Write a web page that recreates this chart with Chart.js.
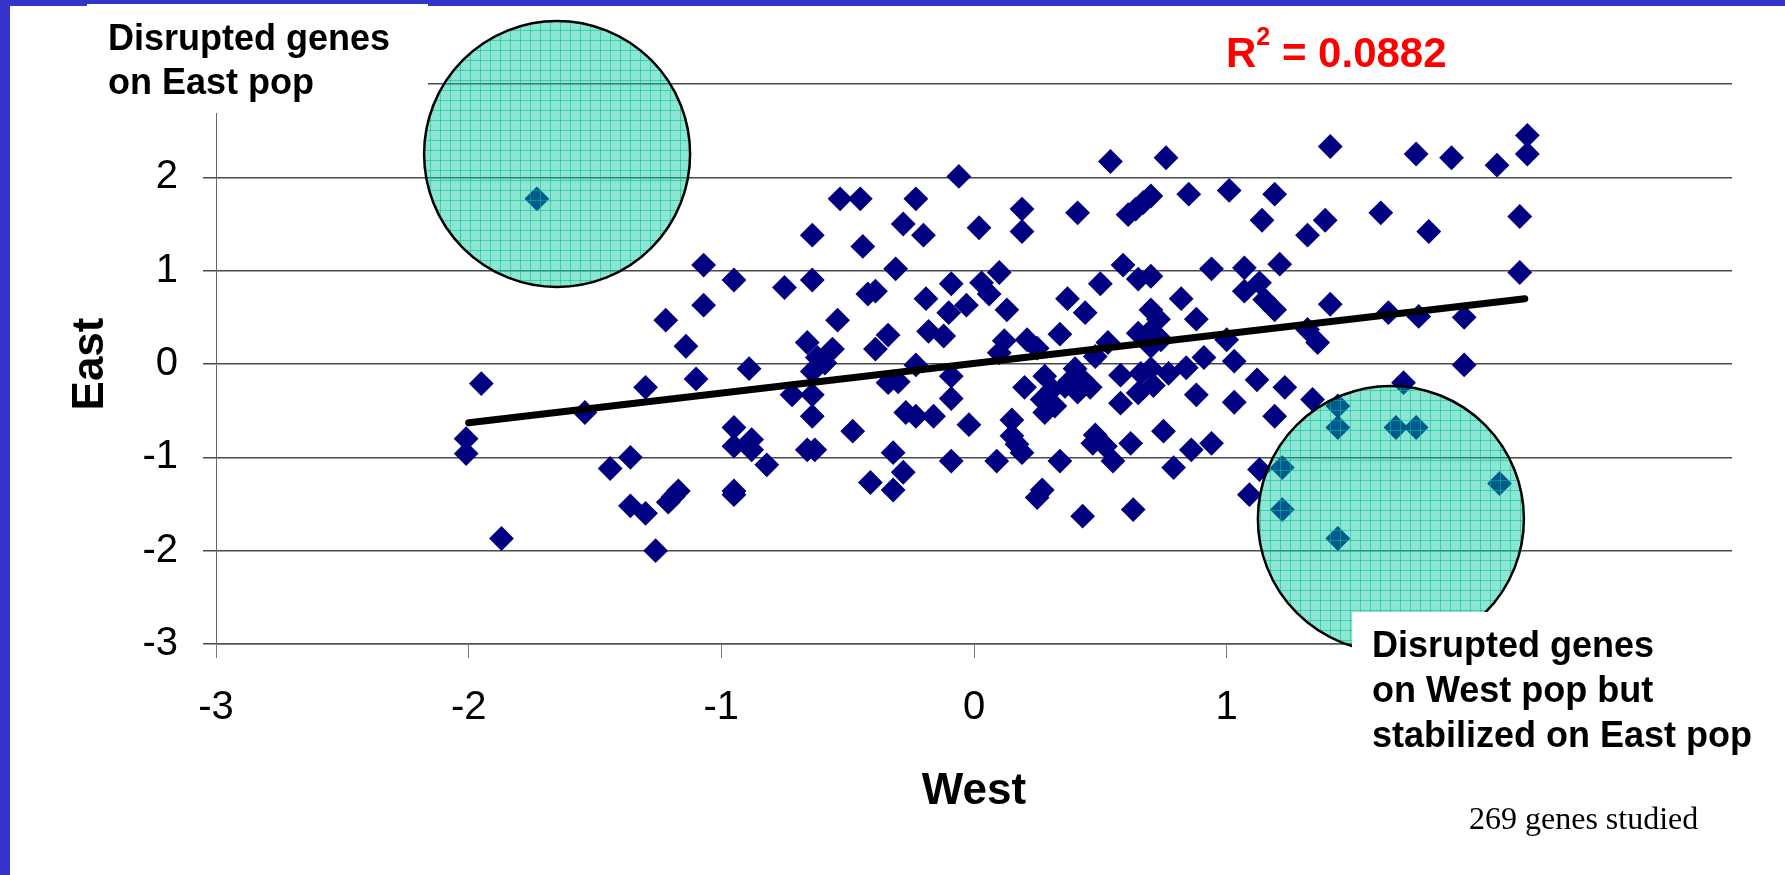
<!DOCTYPE html>
<html>
<head>
<meta charset="utf-8">
<title>West vs East</title>
<script src="https://cdn.jsdelivr.net/npm/chart.js"></script>
<style>
  html, body { margin: 0; padding: 0; background: #ffffff; }
  body { width: 1785px; height: 875px; position: relative; overflow: hidden; }
  #chart { position: absolute; left: 0; top: 0; }
  .frame { position: absolute; background: #3434cb; }
</style>
</head>
<body>
<div class="frame" style="left:0;top:0;width:10px;height:875px"></div>
<div class="frame" style="left:0;top:0;width:87px;height:6px"></div>
<div class="frame" style="left:87px;top:0;width:341px;height:4px"></div>
<div class="frame" style="left:428px;top:0;width:1357px;height:6px"></div>
<canvas id="chart" width="1785" height="875"></canvas>
<script>
// values (West = x, East = y), one entry per gene
const westX = [
    -1.73, -1.95, -2.01, -2.01, -1.87, -1.54, -1.30, -1.36, -1.44, -1.36,
    -1.30, -1.26, -1.21, -1.19, -1.17, -1.22, -1.14, -1.10, -1.07, -1.07,
    -0.95, -0.89, -0.95, -0.95, -0.88, -0.88, -0.82, -0.95, -0.95, -0.75,
    -0.64, -0.64, -0.54, -0.66, -0.62, -0.56, -0.59, -0.64, -0.53, -0.45,
    -0.44, -0.34, -0.39, -0.39, -0.42, -0.28, -0.31, -0.72, -0.64, -0.64,
    -0.48, -0.66, -0.63, -0.41, -0.32, -0.32, -0.28, -0.34, -0.30, -0.27,
    -0.23, -0.20, -0.06, 0.02, 0.19, 0.19, 0.41, 0.54, 0.76, 1.41,
    0.61, 0.64, 0.67, 0.70, 0.85, 1.01, 1.19, 1.14, 1.32, 1.39,
    -0.09, -0.19, -0.10, -0.03, 0.03, 0.06, 0.10, 0.13, -0.18, -0.12,
    -0.23, -0.09, -0.09, -0.23, -0.16, -0.02, -0.09, 0.09, 0.15, 0.15,
    0.17, 0.19, 0.34, 0.27, 0.25, 0.43, 0.63, 0.62, 0.48, 0.52,
    0.55, 0.47, 0.75, 0.79, 0.86, 0.94, 1.03, 1.19, 0.88, 1.12,
    1.23, 1.34, 1.13, 1.09, 1.22, 1.22, 1.44, 0.12, 0.10, 0.21,
    0.25, 0.34, 0.20, 0.28, 0.27, 0.31, 0.28, 0.32, 0.40, 0.38,
    0.43, 0.41, 0.36, 0.46, 0.48, 0.53, 0.50, 0.37, 0.44, 0.59,
    0.65, 0.70, 0.70, 0.73, 0.65, 0.69, 0.70, 0.74, 0.58, 0.65,
    0.66, 0.71, 0.58, 0.70, 0.77, 0.82, 0.88, 0.84, 0.91, 0.94,
    1.07, 1.13, 1.07, 1.19, 1.15, 1.21, 1.00, 1.03, 1.32, 1.36,
    1.41,
    1.75, 1.89, 2.07, 2.19, 2.19, 1.61, 1.80, 2.16, 2.16, 1.64,
    1.76, 1.94, 1.94, 1.70, 1.44, 1.44, 1.67, 1.75, 2.08
];
const eastY = [
    1.77, -0.21, -0.80, -0.96, -1.87, -0.52, -0.25, -1.00, -1.12, -1.52,
    -1.60, -2.00, -1.48, -1.42, -1.36, 0.47, 0.19, -0.16, 1.06, 0.63,
    0.90, -0.05, -0.68, -0.88, -0.81, -0.92, -1.08, -1.36, -1.40, 0.82,
    1.38, 0.90, 0.47, 0.23, 0.07, 0.16, 0.01, -0.08, 1.77, 1.77,
    1.26, 0.31, 0.16, 0.78, 0.75, 1.50, 1.02, -0.33, -0.33, -0.56,
    -0.72, -0.92, -0.92, -1.27, -1.35, -0.95, -1.16, -0.20, -0.19, -0.52,
    1.77, 1.38, 2.01, 1.46, 1.66, 1.42, 1.62, 2.17, 2.21, 2.33,
    1.60, 1.66, 1.73, 1.80, 1.82, 1.86, 1.82, 1.54, 1.38, 1.54,
    0.86, 0.70, 0.55, 0.63, 0.87, 0.75, 0.98, 0.58, 0.35, 0.30,
    -0.01, -0.13, -0.37, -0.56, -0.56, -0.65, -1.04, -1.04, -0.60, -0.77,
    -0.86, -0.95, -1.04, -1.35, -1.43, -1.63, -1.56, -0.85, -0.76, -0.88,
    -1.04, -0.85, -0.72, -1.11, -0.92, -0.85, -0.41, -0.56, -0.33, -0.17,
    -0.25, -0.38, -1.13, -1.40, -1.11, -1.56, -1.87, 0.25, 0.12, 0.26,
    0.17, 0.32, -0.25, -0.13, -0.38, -0.27, -0.52, -0.45, -0.05, -0.18,
    -0.17, -0.30, -0.24, -0.25, 0.08, 0.23, 0.86, 0.70, 0.55, 1.06,
    0.91, 0.94, 0.58, 0.48, 0.33, 0.33, 0.19, 0.26, -0.12, -0.31,
    -0.10, -0.23, -0.42, -0.05, -0.10, 0.70, 0.48, -0.04, 0.07, 1.02,
    1.03, 0.87, 0.78, 0.58, 0.69, 1.07, 0.26, 0.03, 0.37, 0.23,
    0.64,
    2.25, 2.21, 2.13, 2.45, 2.25, 1.62, 1.42, 1.58, 0.98, 0.55,
    0.51, 0.50, -0.01, -0.20, -0.45, -0.68, -0.68, -0.68, -1.28
];

// linear trend, ends
const trendX = [-2.00, 2.18];
const trendY = [-0.63, 0.70];

// axis ticks
const axisTicks = [-3, -2, -1, 0, 1, 2, 3];

// the two highlighted regions (centre in data units)
const circleX = [-1.65, 1.65];
const circleY = [2.25, -1.66];

if (westX.length !== eastY.length) {
    console.error('westX / eastY length mismatch', westX.length, eastY.length);
}

const genePoints = westX.map((x, i) => ({ x: x, y: eastY[i] }));
const trendPoints = trendX.map((x, i) => ({ x: x, y: trendY[i] }));
const circlePoints = circleX.map((x, i) => ({ x: x, y: circleY[i], r: 133 }));

// hatched mint fill for the circles
function makeCirclePattern() {
    const tile = document.createElement('canvas');
    tile.width = 10;
    tile.height = 10;
    const t = tile.getContext('2d');
    for (let i = 0; i < 10; i++) {
        for (let j = 0; j < 10; j++) {
            t.fillStyle = (i + j) % 2 ? 'rgba(0, 200, 160, 0.40)' : 'rgba(0, 200, 160, 0.50)';
            t.fillRect(i, j, 1, 1);
        }
    }
    t.fillStyle = 'rgba(0, 190, 140, 0.55)';
    t.fillRect(0, 0, 10, 1);
    t.fillRect(0, 0, 1, 10);
    return t.createPattern(tile, 'repeat');
}

const FONT = "'Liberation Sans', Arial, Helvetica, sans-serif";

// white label boxes and free text
const labelsPlugin = {
    id: 'labels',
    beforeDatasetsDraw(chart) {
        const ctx = chart.ctx;
        ctx.save();
        ctx.fillStyle = '#ffffff';
        ctx.fillRect(87, 4, 341, 109);
        ctx.restore();
    },
    afterDatasetsDraw(chart) {
        const ctx = chart.ctx;
        ctx.save();
        ctx.fillStyle = '#ffffff';
        ctx.fillRect(1352, 612, 433, 190);

        ctx.fillStyle = '#000000';
        ctx.textAlign = 'left';
        ctx.textBaseline = 'alphabetic';
        ctx.font = 'bold 36px ' + FONT;
        ctx.fillText('Disrupted genes', 108, 50);
        ctx.fillText('on East pop', 108, 94);

        ctx.fillText('Disrupted genes', 1372, 657);
        ctx.fillText('on West pop but', 1372, 702);
        ctx.fillText('stabilized on East pop', 1372, 747);

        // R squared
        ctx.fillStyle = '#ff0000';
        ctx.font = 'bold 42px ' + FONT;
        let x = 1226;
        ctx.fillText('R', x, 67);
        x += ctx.measureText('R').width;
        ctx.font = 'bold 25px ' + FONT;
        ctx.fillText('2', x, 45);
        x += ctx.measureText('2').width;
        ctx.font = 'bold 42px ' + FONT;
        ctx.fillText(' = 0.0882', x, 67);

        ctx.fillStyle = '#000000';
        ctx.font = "32px 'Liberation Serif', 'Times New Roman', serif";
        ctx.fillText('269 genes studied', 1469, 829);
        ctx.restore();
    }
};

Chart.defaults.font.family = FONT;
Chart.defaults.color = '#000000';

const ctx = document.getElementById('chart').getContext('2d');

new Chart(ctx, {
    type: 'scatter',
    data: {
        datasets: [
            {
                type: 'bubble',
                label: 'regions',
                data: circlePoints,
                backgroundColor: makeCirclePattern(),
                borderColor: '#000000',
                borderWidth: 2.5,
                clip: false,
                order: 0
            },
            {
                type: 'line',
                label: 'trend',
                data: trendPoints,
                borderColor: '#000000',
                borderWidth: 7,
                borderCapStyle: 'round',
                pointRadius: 0,
                fill: false,
                order: 1
            },
            {
                label: 'genes',
                data: genePoints,
                pointStyle: 'rectRot',
                pointRadius: 11,
                pointBackgroundColor: '#000080',
                pointBorderColor: '#000080',
                pointBorderWidth: 2,
                order: 2
            }
        ]
    },
    options: {
        responsive: false,
        animation: false,
        devicePixelRatio: 1,
        layout: {
            autoPadding: false,
            padding: { left: 0, top: 84, right: 53, bottom: 0 }
        },
        plugins: {
            legend: { display: false },
            tooltip: { enabled: false }
        },
        scales: {
            x: {
                type: 'linear',
                min: -3,
                max: 3,
                afterFit: function(scale) { scale.height = 231; },
                afterBuildTicks: function(scale) {
                    scale.ticks = axisTicks.map(v => ({ value: v }));
                },
                ticks: {
                    font: { size: 40 },
                    color: '#000000',
                    padding: 26,
                    maxRotation: 0
                },
                grid: {
                    drawOnChartArea: false,
                    drawTicks: true,
                    tickLength: 14,
                    color: '#777777',
                    lineWidth: 1
                },
                border: { display: true, color: '#555555', width: 1.5 },
                title: {
                    display: true,
                    text: 'West',
                    font: { size: 44, weight: 'bold' },
                    color: '#000000',
                    padding: { top: 0, bottom: 57 }
                }
            },
            y: {
                type: 'linear',
                min: -3,
                max: 3,
                afterFit: function(scale) { scale.width = 216; },
                afterBuildTicks: function(scale) {
                    scale.ticks = axisTicks.map(v => ({ value: v }));
                },
                ticks: {
                    font: { size: 40 },
                    color: '#000000',
                    padding: 25
                },
                grid: {
                    drawTicks: true,
                    tickLength: 13,
                    color: '#4a4a4a',
                    lineWidth: 1.5
                },
                border: { display: true, color: '#666666', width: 1 },
                title: {
                    display: true,
                    text: 'East',
                    font: { size: 44, weight: 'bold' },
                    color: '#000000',
                    padding: { top: 64, bottom: 0 }
                }
            }
        }
    },
    plugins: [labelsPlugin]
});
</script>
</body>
</html>
